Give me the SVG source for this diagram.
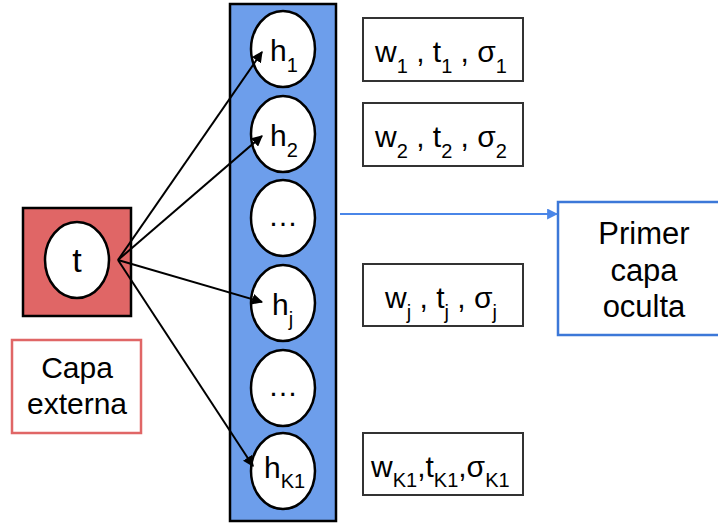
<svg xmlns="http://www.w3.org/2000/svg" width="718" height="524" viewBox="0 0 718 524">
<defs>
<marker id="ak" viewBox="0 0 10 10" refX="9" refY="5" markerWidth="5.5" markerHeight="5.5" orient="auto" markerUnits="strokeWidth"><path d="M0,0 L10,5 L0,10 z" fill="#000"/></marker>
<marker id="ab" viewBox="0 0 10 10" refX="9" refY="5" markerWidth="5.5" markerHeight="5.5" orient="auto" markerUnits="strokeWidth"><path d="M0,0 L10,5 L0,10 z" fill="#4a86e8"/></marker>
<style>
text{font-family:"Liberation Sans",Arial,sans-serif;fill:#000;font-size:30px}
.c{text-anchor:middle}
.n{fill:#fff;stroke:#000;stroke-width:2.5}
.p{fill:#fff;stroke:#333;stroke-width:2}
.s{font-size:20px}
</style>
</defs>
<g id="capa-externa-bg">
<rect x="23" y="208" width="108" height="108" fill="#e06666" stroke="#000" stroke-width="2.5"/>
</g>
<g id="node-t">
<ellipse class="n" cx="77" cy="260" rx="32" ry="38"/>
<text class="c" x="77" y="272" style="font-size:34px">t</text>
</g>
<g id="label-capa-externa">
<rect x="12" y="340" width="129" height="93" fill="#fff" stroke="#e06666" stroke-width="2.5"/>
<text class="c" x="77" y="378">Capa</text>
<text class="c" x="77" y="414">externa</text>
</g>
<g id="hidden-column">
<rect x="230" y="4" width="106" height="517" fill="#6d9eeb" stroke="#000" stroke-width="2.5"/>
</g>
<g id="node-h1"><ellipse class="n" cx="283" cy="49" rx="32" ry="38"/><text x="270" y="61">h<tspan class="s" dy="11">1</tspan></text></g>
<g id="node-h2"><ellipse class="n" cx="283" cy="134" rx="32" ry="38"/><text x="270" y="146">h<tspan class="s" dy="11">2</tspan></text></g>
<g id="node-dots1"><ellipse class="n" cx="283" cy="218" rx="32" ry="38"/><text class="c" x="283" y="226">…</text></g>
<g id="node-hj"><ellipse class="n" cx="283" cy="303" rx="32" ry="38"/><text x="272" y="315">h<tspan class="s" dy="11">j</tspan></text></g>
<g id="node-dots2"><ellipse class="n" cx="283" cy="388" rx="32" ry="38"/><text class="c" x="283" y="396">…</text></g>
<g id="node-hK1"><ellipse class="n" cx="283" cy="471" rx="32" ry="38"/><text x="264" y="478">h<tspan class="s" dy="10">K1</tspan></text></g>
<g id="param-1"><rect class="p" x="363" y="18" width="160" height="63"/><text x="375" y="62">w<tspan class="s" dy="11">1</tspan><tspan dy="-11"> , t</tspan><tspan class="s" dy="11">1</tspan><tspan dy="-11"> , σ</tspan><tspan class="s" dy="11">1</tspan></text></g>
<g id="param-2"><rect class="p" x="363" y="103" width="160" height="63"/><text x="375" y="147">w<tspan class="s" dy="11">2</tspan><tspan dy="-11"> , t</tspan><tspan class="s" dy="11">2</tspan><tspan dy="-11"> , σ</tspan><tspan class="s" dy="11">2</tspan></text></g>
<g id="param-j"><rect class="p" x="363" y="264" width="160" height="62"/><text x="385" y="308">w<tspan class="s" dy="11">j</tspan><tspan dy="-11"> , t</tspan><tspan class="s" dy="11">j</tspan><tspan dy="-11"> , σ</tspan><tspan class="s" dy="11">j</tspan></text></g>
<g id="param-K1"><rect class="p" x="363" y="433" width="160" height="62"/><text x="371" y="477">w<tspan class="s" dy="10">K1</tspan><tspan dy="-10">,t</tspan><tspan class="s" dy="10">K1</tspan><tspan dy="-10">,σ</tspan><tspan class="s" dy="10">K1</tspan></text></g>
<g id="primer-capa-oculta">
<rect x="558" y="202" width="170" height="133" fill="#fff" stroke="#3c78d8" stroke-width="2.5"/>
<text class="c" x="644" y="244" style="font-size:31px">Primer</text>
<text class="c" x="644" y="281" style="font-size:31px">capa</text>
<text class="c" x="644" y="317" style="font-size:31px">oculta</text>
</g>
<g id="connectors" fill="none" stroke-width="2">
<line x1="118" y1="260" x2="262" y2="52" stroke="#000" marker-end="url(#ak)"/>
<line x1="118" y1="260" x2="262" y2="136" stroke="#000" marker-end="url(#ak)"/>
<line x1="118" y1="260" x2="262" y2="302" stroke="#000" marker-end="url(#ak)"/>
<line x1="118" y1="260" x2="253" y2="466" stroke="#000" marker-end="url(#ak)"/>
<line x1="340" y1="214" x2="557" y2="214" stroke="#4a86e8" marker-end="url(#ab)"/>
</g>
</svg>
